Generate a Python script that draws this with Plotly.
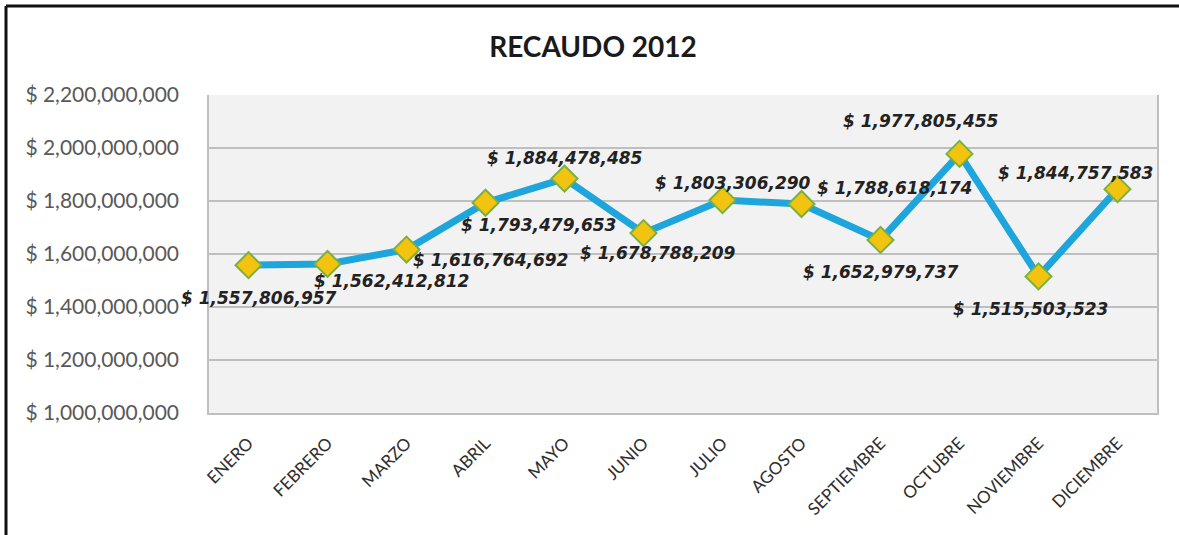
import plotly.graph_objects as go

months = ["ENERO", "FEBRERO", "MARZO", "ABRIL", "MAYO", "JUNIO", "JULIO",
          "AGOSTO", "SEPTIEMBRE", "OCTUBRE", "NOVIEMBRE", "DICIEMBRE"]
recaudo = [1557806957, 1562412812, 1616764692, 1793479653, 1884478485, 1678788209,
           1803306290, 1788618174, 1652979737, 1977805455, 1515503523, 1844757583]
y_ticks = [1000000000, 1200000000, 1400000000, 1600000000, 1800000000, 2000000000, 2200000000]
title_text = "RECAUDO 2012"

# label offsets (pixels) relative to each point: style only
label_dx = [10, 64, 84, 53, 0, 14, 10, 93, 0, -39, -8, -42]
label_dy = [-33, -17, -10, -22, 21, -20, 17, 16, -32, 33, -33, 16]

W, H = 1179, 535
ml, mr, mt, mb = 209, 22, 95, 122
pw, ph = W - ml - mr, H - mt - mb
FONT = "Lato, Open Sans, sans-serif"

fig = go.Figure()
fig.add_trace(go.Scatter(
    x=months, y=recaudo, mode="lines+markers",
    line=dict(color="#1DA5DC", width=7),
    marker=dict(symbol="diamond", size=20, color="#F2C40F",
                line=dict(color="#79B043", width=2)),
    hoverinfo="skip", showlegend=False,
))

for m, v, dx, dy in zip(months, recaudo, label_dx, label_dy):
    fig.add_annotation(x=m, y=v, text=f"<b><i>$ {v:,}</i></b>", showarrow=False,
                       xshift=dx, yshift=dy,
                       font=dict(family="DejaVu Sans, sans-serif", size=17, color="#222222"))

# outer border (left and top) like the screenshot frame
x_left = (6 - ml) / pw
x_right = (W - ml) / pw
y_top = (H - mb - 6) / ph
y_bot = -(mb) / ph
fig.add_shape(type="line", xref="paper", yref="paper", x0=x_left, x1=x_left, y0=y_bot, y1=y_top,
              line=dict(color="#111111", width=3))
fig.add_shape(type="line", xref="paper", yref="paper", x0=x_left, x1=x_right, y0=y_top, y1=y_top,
              line=dict(color="#111111", width=3))

fig.update_layout(
    width=W, height=H,
    margin=dict(l=ml, r=mr, t=mt, b=mb),
    paper_bgcolor="white", plot_bgcolor="#F2F2F2",
    title=dict(text=f"<b>{title_text}</b>", x=593 / W, xanchor="center", y=1 - 47 / H, yanchor="middle",
               font=dict(family=FONT, size=28, color="#1A1A1A")),
    xaxis=dict(type="category", range=[-0.5, 11.5], tickangle=-45,
               showgrid=False, showline=True, linecolor="#BFBFBF", linewidth=1.5,
               ticks="", ticklabelstandoff=12,
               tickfont=dict(family=FONT, size=17, color="#2E2E2E")),
    yaxis=dict(range=[1000000000, 2200000000], tickvals=y_ticks,
               ticktext=[f"$ {t:,}" for t in y_ticks],
               showgrid=True, gridcolor="#BFBFBF", gridwidth=1.5,
               showline=True, linecolor="#BFBFBF", linewidth=1.5, mirror=True,
               zeroline=False, ticks="", ticklabelstandoff=24,
               tickfont=dict(family=FONT, size=21, color="#595959")),
)

fig.write_html("out.html", config={"displayModeBar": False},
               post_script="document.body.style.margin='0';")
